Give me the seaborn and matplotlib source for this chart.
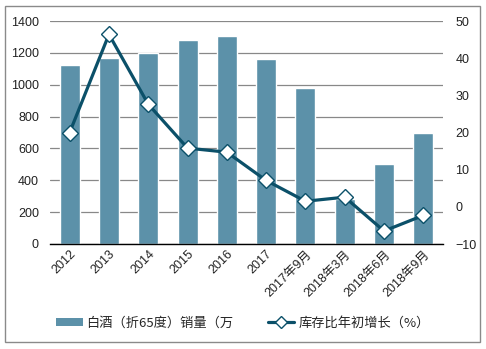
import matplotlib
matplotlib.use("Agg")
import matplotlib.pyplot as plt
from matplotlib.patches import Rectangle
from matplotlib.lines import Line2D
from matplotlib.patches import Patch
import numpy as np
import pandas as pd
import seaborn as sns

categories = ["2012", "2013", "2014", "2015", "2016", "2017",
              "2017年9月", "2018年3月", "2018年6月", "2018年9月"]
sales = [1125, 1170, 1200, 1280, 1308, 1162, 980, 283, 502, 697]
inventory_growth = [20.0, 46.4, 27.6, 15.8, 14.7, 7.1, 1.5, 2.6, -6.5, -2.3]

bar_label = "白酒（折65度）销量（万"
line_label = "库存比年初增长（%）"

sns.set_theme(style="white")
plt.rcParams["font.family"] = ["Liberation Sans", "Noto Sans CJK SC", "DejaVu Sans"]

bar_color = "#5C91A9"
line_color = "#0B5069"

df = pd.DataFrame({"cat": categories, "sales": sales, "growth": inventory_growth})
df["pos"] = np.arange(len(df))

fig = plt.figure(figsize=(4.86, 3.49), dpi=100)
ax = fig.add_axes([50 / 486, 1 - 244 / 349, 393 / 486, 223 / 349])

sns.barplot(data=df, x="cat", y="sales", color=bar_color, width=0.51,
            saturation=1, ax=ax, zorder=2)
ax.set_ylim(0, 1400)
ax.set_yticks(range(0, 1401, 200))
ax.set_xlim(-0.5, len(df) - 0.5)
ax.set_xlabel("")
ax.set_ylabel("")
ax.grid(axis="y", color="#888888", linewidth=0.9, zorder=0)
ax.set_axisbelow(True)
for side in ["left", "right", "top"]:
    ax.spines[side].set_visible(False)
ax.spines["bottom"].set_color("#000000")
ax.spines["bottom"].set_linewidth(1.0)
ax.tick_params(axis="y", length=0, pad=8, labelsize=9, colors="#222222")
ax.tick_params(axis="x", length=0, pad=3, labelsize=9, colors="#222222")
for lbl in ax.get_xticklabels():
    lbl.set_rotation(45)
    lbl.set_ha("right")
    lbl.set_rotation_mode("anchor")

ax2 = ax.twinx()
sns.lineplot(data=df, x="pos", y="growth", color=line_color, linewidth=2.3,
             marker="D", markersize=8, markerfacecolor="white",
             markeredgecolor=line_color, markeredgewidth=1.0, ax=ax2, zorder=3)
ax2.set_ylim(-10, 50)
ax2.set_yticks(range(-10, 51, 10))
ax2.set_xlim(-0.5, len(df) - 0.5)
ax2.set_xlabel("")
ax2.set_ylabel("")
for side in ["left", "right", "top", "bottom"]:
    ax2.spines[side].set_visible(False)
ax2.tick_params(axis="y", length=0, pad=9, labelsize=9, colors="#222222")
ax2.grid(False)

handles = [
    Patch(facecolor=bar_color, edgecolor="none"),
    Line2D([0], [0], color=line_color, linewidth=2.3, marker="D", markersize=6,
           markerfacecolor="white", markeredgecolor=line_color),
]
fig.legend(handles, [bar_label, line_label], loc="center",
           bbox_to_anchor=(0.5, 1 - 323 / 349), ncol=2, frameon=False,
           handlelength=2.0, handleheight=0.55, columnspacing=2.6,
           handletextpad=0.3,
           prop={"family": ["Noto Sans CJK SC", "DejaVu Sans"], "size": 9.5})

fig.patches.append(Rectangle((5 / 486, 1 - 342 / 349), 475 / 486, 336 / 349,
                             transform=fig.transFigure, fill=False,
                             edgecolor="#8A8A8A", linewidth=1.0))

fig.savefig("out.png", dpi=100)
